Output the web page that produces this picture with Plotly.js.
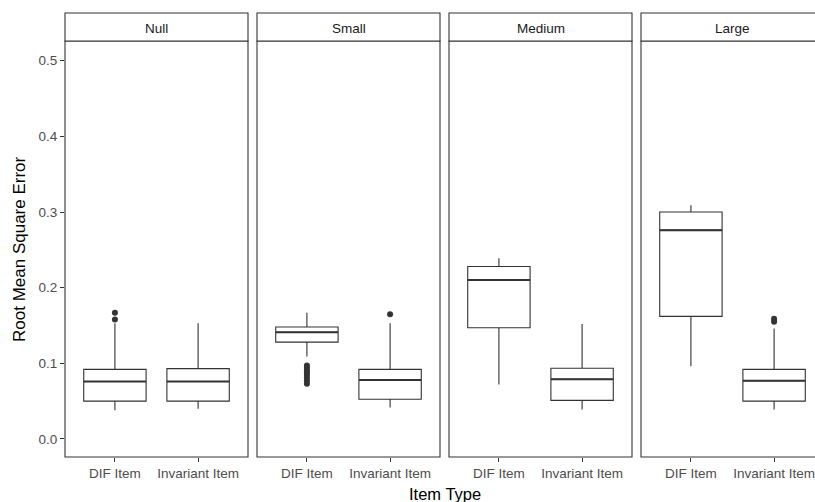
<!DOCTYPE html>
<html>
<head>
<meta charset="utf-8">
<script src="https://cdn.plot.ly/plotly-3.0.1.min.js"></script>
<style>
html,body{margin:0;padding:0;overflow:hidden;background:#fff;}
#chart{width:825px;height:502px;}
</style>
</head>
<body>
<div id="chart"></div>
<script>
// ---- data ----
const panels = ["Null", "Small", "Medium", "Large"];
const itemTypes = ["DIF Item", "Invariant Item"];

// per panel: [DIF Item, Invariant Item]
const lowerWhisker = [[0.038, 0.040], [0.109, 0.0415], [0.072, 0.039], [0.096, 0.039]];
const q1Values     = [[0.050, 0.050], [0.128, 0.0525], [0.147, 0.051], [0.162, 0.050]];
const medianValues = [[0.076, 0.076], [0.141, 0.078], [0.210, 0.079], [0.276, 0.077]];
const q3Values     = [[0.092, 0.093], [0.148, 0.092], [0.228, 0.0935], [0.300, 0.092]];
const upperWhisker = [[0.153, 0.153], [0.167, 0.153], [0.239, 0.152], [0.309, 0.146]];

// outliers per panel
const outlierDIF = [[0.158, 0.167], [0.073, 0.077, 0.081, 0.085, 0.088, 0.091, 0.094, 0.097], [], []];
const outlierInvariant = [[], [0.165], [], [0.155, 0.159]];

const yTicks = [0, 0.1, 0.2, 0.3, 0.4, 0.5];
const xTitle = "Item Type";
const yTitle = "Root Mean Square Error";

// ---- layout geometry ----
const W = 825, H = 502;
const margin = {l: 65, r: 1, t: 41, b: 45};
const plotW = W - margin.l - margin.r;
const plotH = H - margin.t - margin.b;
const panelW = 183, gap = 9;
const lineCol = "#333333";
const font = "Liberation Sans, Arial, sans-serif";
const tickSize = 13.5;

const traces = [];
const layout = {
  width: W, height: H, margin: margin,
  paper_bgcolor: "#fff", plot_bgcolor: "#fff",
  showlegend: false, boxmode: "overlay",
  font: {family: font, color: "#4d4d4d"},
  shapes: [], annotations: [],
  yaxis: {
    anchor: "x", range: [-0.0238, 0.526], tickvals: yTicks, tickformat: ".1f",
    ticks: "outside", ticklen: 4, tickcolor: lineCol, tickwidth: 1,
    showgrid: false, zeroline: false, showline: false,
    tickfont: {size: tickSize, color: "#4d4d4d", family: font}
  }
};

panels.forEach((name, i) => {
  const ax = i === 0 ? "x" : "x" + (i + 1);
  const axKey = i === 0 ? "xaxis" : "xaxis" + (i + 1);
  const d0 = (i * (panelW + gap)) / plotW;
  const d1 = Math.min(1, (i * (panelW + gap) + panelW) / plotW);
  layout[axKey] = {
    domain: [d0, d1], anchor: "y", type: "category",
    categoryarray: itemTypes, range: [-0.6, 1.6],
    ticks: "outside", ticklen: 4, tickcolor: lineCol, tickwidth: 1,
    showgrid: false, zeroline: false, showline: false,
    tickfont: {size: tickSize, color: "#4d4d4d", family: font}
  };
  // box
  traces.push({
    type: "box", xaxis: ax, yaxis: "y", x: itemTypes,
    q1: q1Values[i], median: medianValues[i], q3: q3Values[i],
    lowerfence: lowerWhisker[i], upperfence: upperWhisker[i],
    boxpoints: false, width: 0.75, whiskerwidth: 0,
    fillcolor: "#ffffff", line: {color: lineCol, width: 1.1},
    hoverinfo: "skip"
  });
  // thicker median line
  traces.push({
    type: "box", xaxis: ax, yaxis: "y", x: itemTypes,
    q1: medianValues[i], median: medianValues[i], q3: medianValues[i],
    lowerfence: medianValues[i], upperfence: medianValues[i],
    boxpoints: false, width: 0.75, whiskerwidth: 0,
    fillcolor: "rgba(0,0,0,0)", line: {color: lineCol, width: 2},
    hoverinfo: "skip"
  });
  // outliers
  const ox = [], oy = [];
  outlierDIF[i].forEach(v => { ox.push(itemTypes[0]); oy.push(v); });
  outlierInvariant[i].forEach(v => { ox.push(itemTypes[1]); oy.push(v); });
  traces.push({
    type: "scatter", mode: "markers", xaxis: ax, yaxis: "y",
    x: ox, y: oy, marker: {size: 6, color: lineCol}, hoverinfo: "skip"
  });
  // panel frame
  layout.shapes.push({
    type: "rect", xref: ax + " domain", yref: "y domain",
    x0: 0, x1: 1, y0: 0, y1: 1, line: {color: lineCol, width: 1.1},
    fillcolor: "rgba(0,0,0,0)", layer: "above"
  });
  // strip
  layout.shapes.push({
    type: "rect", xref: ax + " domain", yref: "y domain",
    x0: 0, x1: 1, y0: 1, y1: 1 + 28 / plotH, line: {color: lineCol, width: 1.1},
    fillcolor: "#ffffff", layer: "above"
  });
  layout.annotations.push({
    xref: ax + " domain", yref: "y domain", x: 0.5, y: 1 + 13 / plotH,
    text: name, showarrow: false, xanchor: "center", yanchor: "middle",
    font: {size: 13.5, color: "#1a1a1a", family: font}
  });
});

layout.annotations.push({
  xref: "paper", yref: "paper", x: (444.5 - margin.l) / plotW, y: 0, yshift: -37,
  text: xTitle, showarrow: false, xanchor: "center", yanchor: "middle",
  font: {size: 16.5, color: "#000", family: font}
});
layout.annotations.push({
  xref: "paper", yref: "paper", x: 0, xshift: -(margin.l - 19), y: 0.5,
  text: yTitle, showarrow: false, textangle: -90, xanchor: "center", yanchor: "middle",
  font: {size: 17, color: "#000", family: font}
});

Plotly.newPlot("chart", traces, layout, {staticPlot: true, displayModeBar: false});
</script>
</body>
</html>
